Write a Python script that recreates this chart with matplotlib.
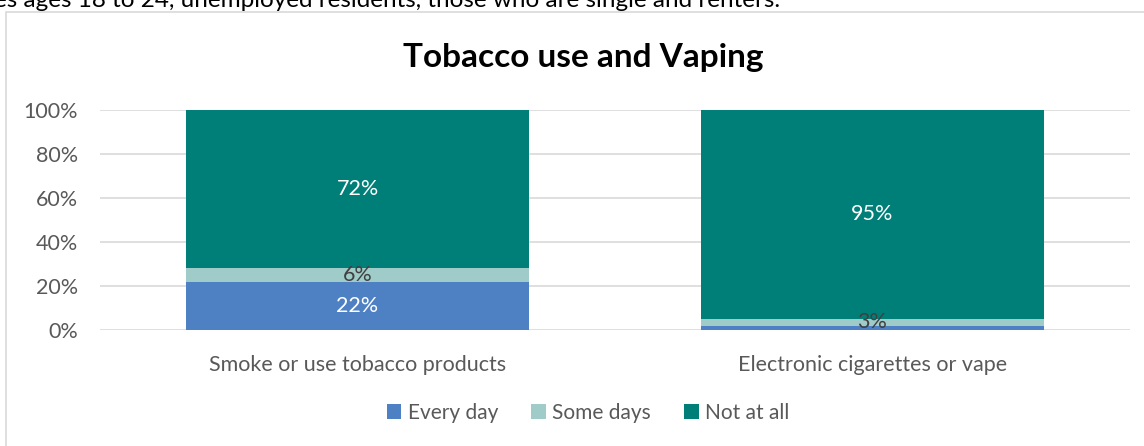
import matplotlib.pyplot as plt
from matplotlib.patches import Rectangle

categories = ['Smoke or use tobacco products', 'Electronic cigarettes or vape']
every_day = [22, 2]
some_days = [6, 3]
not_at_all = [72, 95]
# labels as shown on the chart (the 2% label is not displayed)
every_day_labels = ['22%', '']
some_days_labels = ['6%', '3%']
not_at_all_labels = ['72%', '95%']
series_names = ['Every day', 'Some days', 'Not at all']
colors = ['#4e81c4', '#9fcbc8', '#007f78']

plt.rcParams['font.family'] = ['Lato', 'DejaVu Sans']

fig = plt.figure(figsize=(11.44, 4.46), dpi=100)
W, H = 1144, 446
ax = fig.add_axes([100 / W, 1 - 330 / H, 1030 / W, 220 / H])

# cropped sentence from the surrounding document
fig.text(-6 / W, 1 - 7 / H, 'es ages 18 to 24, unemployed residents, those who are single and renters.',
         fontsize=17.5, color='black', va='baseline', ha='left')

# chart border
fig.patches.append(Rectangle((6 / W, -0.1), 1.2, 1 - 12 / H + 0.1, transform=fig.transFigure,
                             fill=False, edgecolor='#d9d9d9', linewidth=1.2))

x = range(len(categories))
width = 0.666
bottom2 = [a + b for a, b in zip(every_day, some_days)]
b1 = ax.bar(x, every_day, width, color=colors[0], label=series_names[0], zorder=3)
b2 = ax.bar(x, some_days, width, bottom=every_day, color=colors[1], label=series_names[1], zorder=3)
b3 = ax.bar(x, not_at_all, width, bottom=bottom2, color=colors[2], label=series_names[2], zorder=3)

fs = 15.5
ax.bar_label(b1, labels=every_day_labels, label_type='center', color='white', fontsize=fs, zorder=4)
ax.bar_label(b2, labels=some_days_labels, label_type='center', color='#404040', fontsize=fs, zorder=4)
ax.bar_label(b3, labels=not_at_all_labels, label_type='center', color='white', fontsize=fs, zorder=4)

ax.set_xlim(-0.5, 1.5)
ax.set_ylim(0, 100)
ax.set_yticks([0, 20, 40, 60, 80, 100])
ax.set_yticklabels([f'{v}%' for v in [0, 20, 40, 60, 80, 100]])
ax.set_xticks(list(x))
ax.set_xticklabels(categories)
ax.tick_params(axis='both', length=0, labelsize=fs, labelcolor='#595959')
ax.tick_params(axis='y', pad=16)
ax.tick_params(axis='x', pad=18)
ax.grid(axis='y', color='#d9d9d9', linewidth=1.2, zorder=0)
for s in ax.spines.values():
    s.set_visible(False)

# title centred on the whole chart box, not the plot area
fig.text(583 / W, 1 - 58 / H, 'Tobacco use and Vaping', fontsize=24, fontweight='bold',
         color='black', ha='center', va='center')

fig.legend(handles=[b1, b2, b3], loc='center', bbox_to_anchor=(588 / W, 1 - 413 / H), ncol=3,
           frameon=False, fontsize=15, labelcolor='#595959', handlelength=0.7, handleheight=0.7,
           handletextpad=0.3, columnspacing=1.6)

fig.savefig('out.png', dpi=100)
